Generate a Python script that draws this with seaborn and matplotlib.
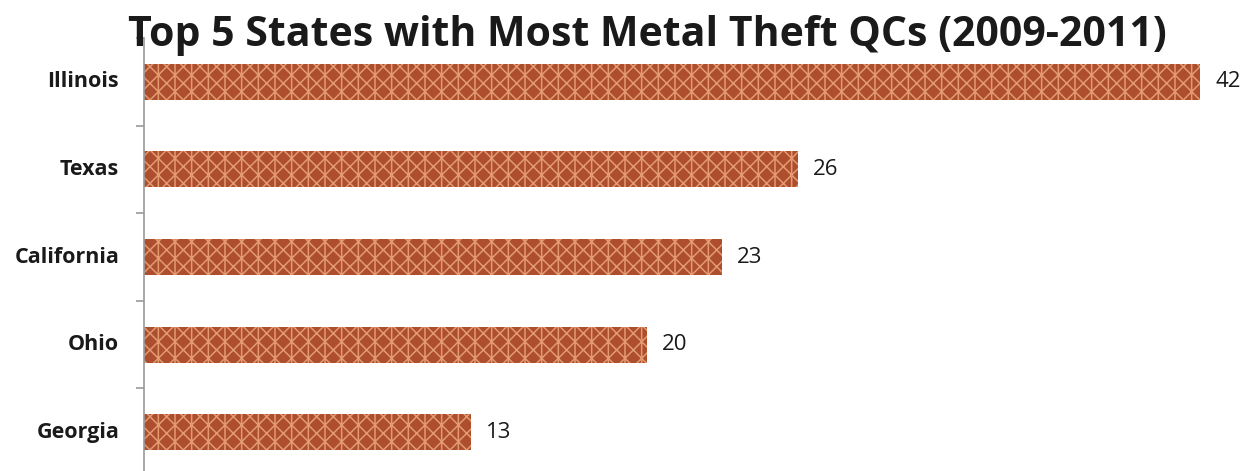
import matplotlib
matplotlib.use("Agg")
import matplotlib.pyplot as plt
import seaborn as sns
import pandas as pd

states = ["Illinois", "Texas", "California", "Ohio", "Georgia"]
qcs = [42, 26, 23, 20, 13]
title = "Top 5 States with Most Metal Theft QCs (2009-2011)"

df = pd.DataFrame({"state": states, "qcs": qcs})

sns.set_theme(style="white")
plt.rcParams["font.family"] = ["Open Sans", "DejaVu Sans"]
plt.rcParams["hatch.linewidth"] = 1.1

fig = plt.figure(figsize=(12.48, 4.71), dpi=100)
ax = fig.add_axes([0.1154, -0.0106, 0.8461, 0.9299])

sns.barplot(data=df, x="qcs", y="state", orient="h", color="#ad4f2e",
            width=0.41, saturation=1, ax=ax)
for p in ax.patches:
    p.set_hatch("xx|")
    p.set_edgecolor("#e39a70")
    p.set_linewidth(0)

ax.set_xlim(0, 42)
ax.set_ylim(4.5, -0.5)
ax.set_xlabel("")
ax.set_ylabel("")
ax.set_xticks([])
ax.set_yticks([i - 0.5 for i in range(len(states))])
ax.set_yticklabels([])
ax.tick_params(axis="y", length=6, width=1.2, color="#9a9a9a", left=True)
for i, s in enumerate(states):
    ax.text(-0.0235, i, s, transform=ax.get_yaxis_transform(), ha="right", va="center",
            fontsize=15.5, fontweight="bold", color="#1a1a1a")
for i, v in enumerate(qcs):
    ax.text(v + 0.6, i, str(v), ha="left", va="center", fontsize=16,
            color="#1a1a1a", clip_on=False)

for s in ["top", "right", "bottom"]:
    ax.spines[s].set_visible(False)
ax.spines["left"].set_color("#9a9a9a")
ax.spines["left"].set_linewidth(1.2)

fig.text(0.519, 0.925, title, ha="center", va="center", fontsize=29.5,
         fontweight="bold", color="#1a1a1a")

fig.savefig("out.png", dpi=100)
